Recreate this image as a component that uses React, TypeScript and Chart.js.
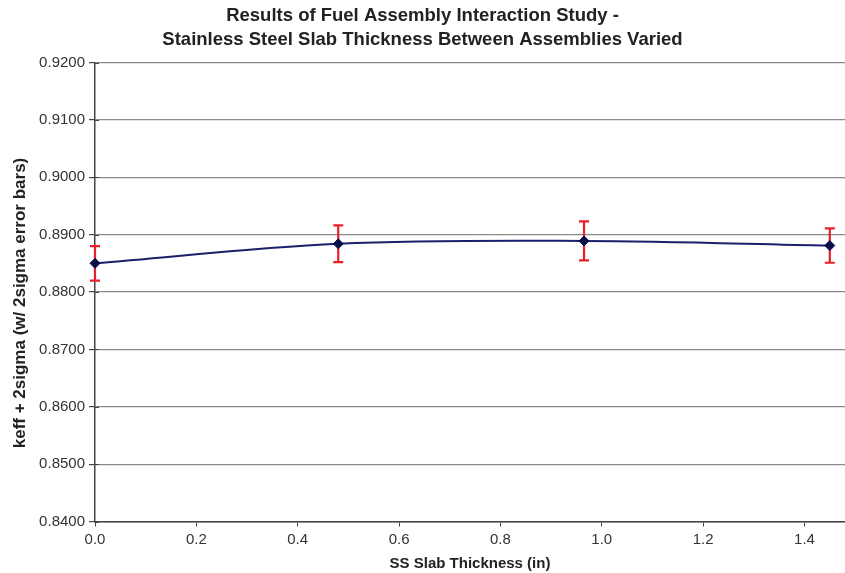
import React, { useEffect, useRef } from "react";
import { Chart, registerables } from "chart.js";

Chart.register(...registerables);

const titleLines = [
  "Results of Fuel Assembly Interaction Study -",
  "Stainless Steel Slab Thickness Between Assemblies Varied",
];
const xAxisTitle = "SS Slab Thickness (in)";
const yAxisTitle = "keff + 2sigma (w/ 2sigma error bars)";

const slabThickness = [0, 0.48, 0.965, 1.45];
const keffValues = [0.885, 0.8884, 0.8889, 0.8881];
const twoSigma = [0.003, 0.0032, 0.0034, 0.003];

const FONT = "'Liberation Sans', Arial, sans-serif";

const errorBarPlugin = {
  id: "errorBars",
  beforeDatasetsDraw(chart: any) {
    const ctx = chart.ctx;
    const xs = chart.scales.x;
    const ys = chart.scales.y;
    ctx.save();
    ctx.strokeStyle = "#e8202e";
    ctx.lineWidth = 2.2;
    slabThickness.forEach((xv, i) => {
      const px = xs.getPixelForValue(xv);
      const top = ys.getPixelForValue(keffValues[i] + twoSigma[i]);
      const bot = ys.getPixelForValue(keffValues[i] - twoSigma[i]);
      const cap = 5;
      ctx.beginPath();
      ctx.moveTo(px, top);
      ctx.lineTo(px, bot);
      ctx.moveTo(px - cap, top);
      ctx.lineTo(px + cap, top);
      ctx.moveTo(px - cap, bot);
      ctx.lineTo(px + cap, bot);
      ctx.stroke();
    });
    ctx.restore();
  },
};

const axisExtrasPlugin = {
  id: "axisExtras",
  afterDraw(chart: any) {
    const ctx = chart.ctx;
    const ys = chart.scales.y;
    const area = chart.chartArea;
    ctx.save();
    // inner half of crossing tick marks on the value axis
    ctx.strokeStyle = "#444";
    ctx.lineWidth = 1;
    ys.ticks.forEach((t: any) => {
      const py = Math.round(ys.getPixelForValue(t.value)) + 0.5;
      ctx.beginPath();
      ctx.moveTo(area.left, py);
      ctx.lineTo(area.left + 4, py);
      ctx.stroke();
    });
    // value-axis title
    ctx.fillStyle = "#222";
    ctx.font = `bold 17px ${FONT}`;
    ctx.textAlign = "center";
    ctx.textBaseline = "middle";
    ctx.translate(20, 303);
    ctx.rotate(-Math.PI / 2);
    ctx.fillText(yAxisTitle, 0, 0);
    ctx.restore();
  },
};

export default function App() {
  const ref = useRef<HTMLCanvasElement>(null);
  useEffect(() => {
    document.body.style.margin = "0";
    const chart = new Chart(ref.current!, {
      type: "line",
      data: {
        datasets: [
          {
            data: slabThickness.map((x, i) => ({ x, y: keffValues[i] })),
            borderColor: "#1c1f6b",
            borderWidth: 2,
            backgroundColor: "#0a0f4a",
            pointStyle: "rectRot",
            pointRadius: 5,
            pointBorderWidth: 1,
            pointBorderColor: "#0a0f4a",
            pointBackgroundColor: "#0a0f4a",
            tension: 0.35,
            clip: false as any,
          },
        ],
      },
      options: {
        responsive: false,
        animation: false,
        layout: { padding: 0, autoPadding: false } as any,
        plugins: {
          legend: { display: false },
          tooltip: { enabled: false },
          title: {
            display: true,
            text: titleLines,
            color: "#222",
            font: { family: FONT, size: 18.5, weight: "bold", lineHeight: 1.26 },
            padding: { top: 4.5, bottom: 11.4 },
          },
        },
        scales: {
          x: {
            type: "linear",
            min: 0,
            max: 1.48,
            ticks: {
              stepSize: 0.2,
              includeBounds: false,
              color: "#333",
              font: { family: FONT, size: 15 },
              padding: 4,
              maxRotation: 0,
              callback: (v: any) => Number(v).toFixed(1),
            },
            grid: {
              drawOnChartArea: false,
              drawTicks: true,
              tickLength: 5,
              color: "#444",
            },
            border: { color: "#444", width: 1.5 },
            title: {
              display: true,
              text: xAxisTitle,
              color: "#222",
              font: { family: FONT, size: 15, weight: "bold" },
              padding: { top: 0, bottom: 0 },
            },
            afterFit: (s: any) => {
              s.height = 51.5;
            },
          } as any,
          y: {
            min: 0.84,
            max: 0.92,
            ticks: {
              stepSize: 0.01,
              color: "#333",
              font: { family: FONT, size: 15 },
              padding: 4,
              callback: (v: any) => Number(v).toFixed(4),
            },
            grid: {
              color: "#8a8a8a",
              lineWidth: 1.2,
              drawTicks: true,
              tickLength: 6,
              tickColor: "#444",
            },
            border: { color: "#444", width: 1.5 },
            title: { display: false },
            afterFit: (s: any) => {
              s.width = 95;
            },
          } as any,
        },
      },
      plugins: [errorBarPlugin, axisExtrasPlugin],
    });
    return () => chart.destroy();
  }, []);
  return (
    <div style={{ position: "absolute", left: 0, top: 0, width: 845, height: 573, background: "#fff" }}>
      <canvas ref={ref} width={845} height={573} />
    </div>
  );
}
